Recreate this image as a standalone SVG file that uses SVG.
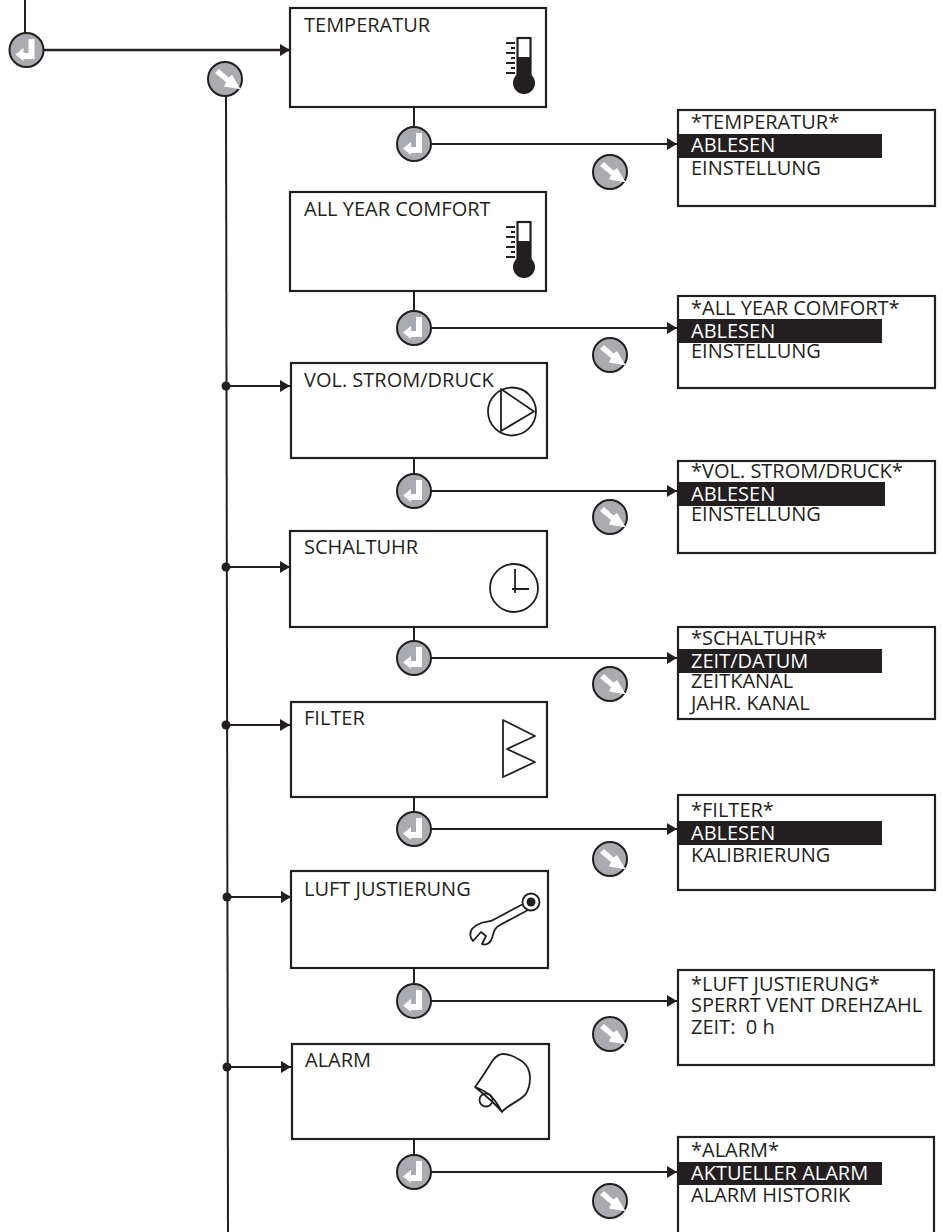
<svg xmlns="http://www.w3.org/2000/svg" width="943" height="1232" viewBox="0 0 943 1232">
<style>
text{font-family:"Open Sans","Noto Sans","Liberation Sans",sans-serif;font-size:20px;fill:#231f20;white-space:pre;font-kerning:none}
text.w{fill:#fff}
.box{fill:#fff;stroke:#231f20;stroke-width:2.200}
.hl{fill:#231f20;stroke:none}
.ln{fill:none;stroke:#231f20;stroke-width:2}
.ic{fill:none;stroke:#231f20;stroke-width:1.800;stroke-linejoin:round}
.fill{fill:#231f20;stroke:none}
</style>
<defs>
<marker id="arr" markerUnits="userSpaceOnUse" markerWidth="11" markerHeight="12" refX="10" refY="6" orient="auto"><path d="M0 0L10 6L0 12Z" fill="#231f20"/></marker>
<g id="enter"><circle r="17" fill="#a9abb0" stroke="#231f20" stroke-width="2"/><path d="M2-11H8V9H-3V11L-11 4.500L-3-2V3H2Z" fill="#fff"/></g>
<g id="down"><circle r="17" fill="#a9abb0" stroke="#231f20" stroke-width="2"/><path d="M-10-6L-6-10L3.500-1.500L7-4L15.700 10.300L-1 7.500L1 3Z" fill="#fff"/></g>
<g id="thermo"><rect x="-6.500" y="-45" width="13" height="42" fill="#fff" stroke="#231f20" stroke-width="2.200"/><rect x="-6.500" y="-26" width="13" height="26" class="fill"/><circle cy="0" r="11" class="fill"/><path d="M-18-40h9M-13-35h4M-18-30h9M-13-25h4M-18-20h9M-13-15h4M-18-10h9" stroke="#231f20" stroke-width="2" fill="none"/></g>
</defs>
<g id="connectors">
<path class="ln" d="M25 0V34"/>
<path class="ln" style="stroke-width:2.500" d="M43 50H290" marker-end="url(#arr)"/>
<path class="ln" d="M226 96L228 1232"/>
<path class="ln" d="M226 386H290" marker-end="url(#arr)"/><circle class="fill" cx="226" cy="386" r="4.500"/>
<path class="ln" d="M226 567H290" marker-end="url(#arr)"/><circle class="fill" cx="226" cy="567" r="4.500"/>
<path class="ln" d="M226 725H290" marker-end="url(#arr)"/><circle class="fill" cx="226" cy="725" r="4.500"/>
<path class="ln" d="M227 897H291" marker-end="url(#arr)"/><circle class="fill" cx="227" cy="897" r="4.500"/>
<path class="ln" d="M227 1067H291" marker-end="url(#arr)"/><circle class="fill" cx="227" cy="1067" r="4.500"/>
<path class="ln" d="M414 107V127"/><path class="ln" d="M431 144H677" marker-end="url(#arr)"/>
<path class="ln" d="M414 291V311"/><path class="ln" d="M431 328H677" marker-end="url(#arr)"/>
<path class="ln" d="M414 458V474"/><path class="ln" d="M431 491H677" marker-end="url(#arr)"/>
<path class="ln" d="M414 627V641"/><path class="ln" d="M431 658H677" marker-end="url(#arr)"/>
<path class="ln" d="M414 797V812"/><path class="ln" d="M431 829H677" marker-end="url(#arr)"/>
<path class="ln" d="M414 968V984"/><path class="ln" d="M431 1001H677" marker-end="url(#arr)"/>
<path class="ln" d="M414 1139V1155"/><path class="ln" d="M431 1172H677" marker-end="url(#arr)"/>
</g>
<g id="buttons">
<use href="#enter" x="26.500" y="50"/>
<use href="#down" x="225" y="79"/>
<use href="#enter" x="414" y="144"/><use href="#down" x="610" y="172"/>
<use href="#enter" x="414" y="328"/><use href="#down" x="610" y="355"/>
<use href="#enter" x="414" y="491"/><use href="#down" x="610" y="517"/>
<use href="#enter" x="414" y="658"/><use href="#down" x="610" y="684"/>
<use href="#enter" x="414" y="829"/><use href="#down" x="610" y="859"/>
<use href="#enter" x="414" y="1001"/><use href="#down" x="610" y="1034"/>
<use href="#enter" x="414" y="1172"/><use href="#down" x="610" y="1201"/>
</g>
<g id="n-temperatur"><rect class="box" x="290" y="8" width="256" height="99"/><text x="304" y="32">TEMPERATUR</text><use href="#thermo" x="524" y="83"/></g>
<g id="n-comfort"><rect class="box" x="290" y="192" width="256" height="99"/><text x="304" y="216">ALL YEAR COMFORT</text><use href="#thermo" x="524" y="267"/></g>
<g id="n-vol"><rect class="box" x="291" y="363" width="256" height="95"/><text x="304" y="387">VOL. STROM/DRUCK</text><circle class="ic" cx="512" cy="411.500" r="24"/><path class="ic" d="M501 389L534 411.500L501 431Z"/></g>
<g id="n-schaltuhr"><rect class="box" x="290" y="531" width="257" height="96"/><text x="304" y="554">SCHALTUHR</text><circle class="ic" cx="514" cy="588" r="24"/><path class="ic" d="M515 569V593M512 589H529"/></g>
<g id="n-filter"><rect class="box" x="291" y="702" width="256" height="95"/><text x="304" y="725">FILTER</text><path class="ic" d="M503 720L535 736L507 749L535 762L503 777Z"/></g>
<g id="n-luft"><rect class="box" x="291" y="871" width="257" height="97"/><text x="304" y="896">LUFT JUSTIERUNG</text><path class="ic" d="M523 904L495 919C489 923 484 921 479 924C472 927 469 932 471 938L473 941L481 932L486 936L482 944C487 946 491 942 492 938C494 932 494 928 500 925L528 910"/><circle class="ic" cx="531" cy="902" r="8.500"/><circle class="fill" cx="531" cy="902" r="4.500"/></g>
<g id="n-alarm"><rect class="box" x="292" y="1044" width="257" height="95"/><text x="305" y="1067">ALARM</text><circle class="ic" cx="486" cy="1100" r="6.500"/><path class="ic" d="M475 1087C482 1078 489 1066 493 1060C497 1055 500 1054 503 1054C510 1054 517 1058 523 1062C528 1066 530 1072 530 1078C530 1085 528 1091 525 1095C518 1102 506 1106 502 1112C498 1105 493 1093 475 1087C481 1092 494 1102 502 1112"/></g>
<g id="s-temperatur"><rect class="box" x="678" y="110" width="257" height="96"/><rect class="hl" x="677" y="134" width="205" height="24"/><text x="691" y="129">*TEMPERATUR*</text><text class="w" x="691" y="152">ABLESEN</text><text x="691" y="175">EINSTELLUNG</text></g>
<g id="s-comfort"><rect class="box" x="678" y="296" width="257" height="92"/><rect class="hl" x="677" y="319" width="205" height="24"/><text x="691" y="315">*ALL YEAR COMFORT*</text><text class="w" x="691" y="338">ABLESEN</text><text x="691" y="358">EINSTELLUNG</text></g>
<g id="s-vol"><rect class="box" x="678" y="461" width="257" height="92"/><rect class="hl" x="678" y="482" width="207" height="24"/><text x="691" y="478">*VOL. STROM/DRUCK*</text><text class="w" x="691" y="501">ABLESEN</text><text x="691" y="521">EINSTELLUNG</text></g>
<g id="s-schaltuhr"><rect class="box" x="678" y="627" width="257" height="92"/><rect class="hl" x="677" y="649" width="205" height="24"/><text x="691" y="645">*SCHALTUHR*</text><text class="w" x="691" y="668">ZEIT/DATUM</text><text x="691" y="688">ZEITKANAL</text><text x="691" y="710">JAHR. KANAL</text></g>
<g id="s-filter"><rect class="box" x="678" y="795" width="257" height="95"/><rect class="hl" x="677" y="821" width="205" height="24"/><text x="691" y="817">*FILTER*</text><text class="w" x="691" y="840">ABLESEN</text><text x="691" y="862">KALIBRIERUNG</text></g>
<g id="s-luft"><rect class="box" x="678" y="970" width="256" height="95"/><text x="691" y="991">*LUFT JUSTIERUNG*</text><text x="691" y="1012">SPERRT VENT DREHZAHL</text><text x="691" y="1034">ZEIT:  0 h</text></g>
<g id="s-alarm"><rect class="box" x="678" y="1137" width="256" height="100"/><rect class="hl" x="677" y="1162" width="205" height="23"/><text x="691" y="1157">*ALARM*</text><text class="w" x="691" y="1180">AKTUELLER ALARM</text><text x="691" y="1202">ALARM HISTORIK</text></g>
</svg>
